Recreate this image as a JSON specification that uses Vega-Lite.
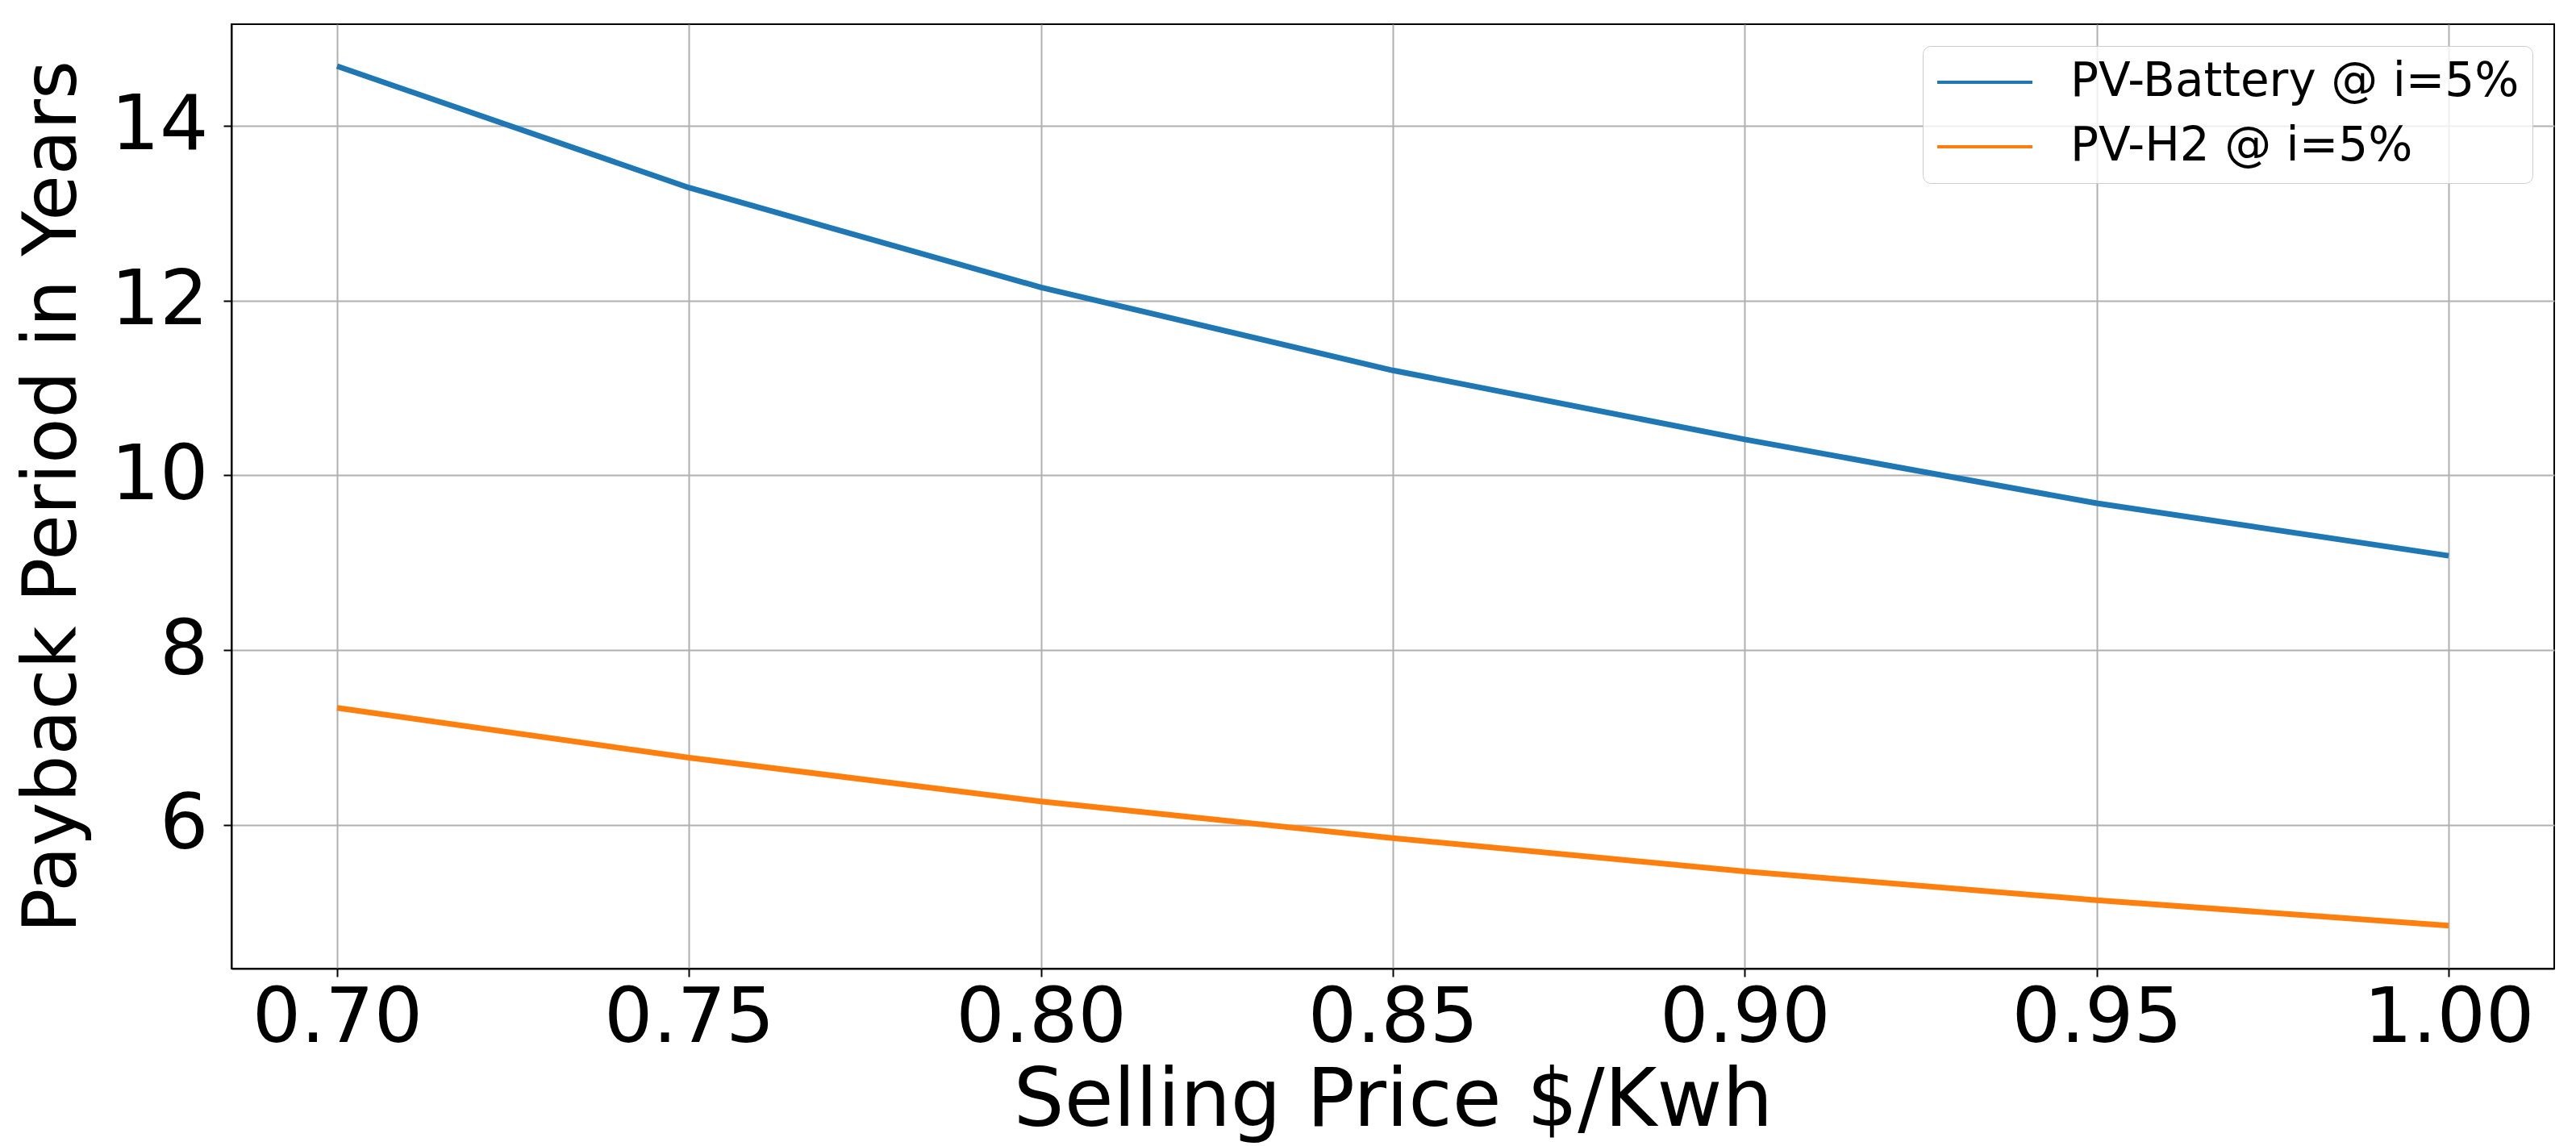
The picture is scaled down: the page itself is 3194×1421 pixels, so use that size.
{
  "$schema": "https://vega.github.io/schema/vega-lite/v6.json",
  "width": 2880,
  "height": 1171,
  "autosize": {"type": "none"},
  "padding": {"left": 287, "top": 30, "right": 27, "bottom": 220},
  "background": "white",
  "config": {
    "font": "DejaVu Sans",
    "view": {"stroke": "black", "strokeWidth": 2},
    "axis": {
      "labelFont": "DejaVu Sans",
      "titleFont": "DejaVu Sans",
      "labelColor": "black",
      "titleColor": "black",
      "titleFontWeight": "normal",
      "domainColor": "black",
      "domainWidth": 2,
      "tickColor": "black",
      "tickWidth": 2,
      "tickSize": 10,
      "gridColor": "#b0b0b0",
      "gridWidth": 2,
      "labelFontSize": 95,
      "labelLimit": 1000,
      "labelFlush": false,
      "labelOverlap": false
    },
    "legend": {
      "strokeColor": "#cccccc",
      "fillColor": "rgba(255,255,255,0.8)",
      "cornerRadius": 10
    }
  },
  "data": {
    "values": [
      {"price": 0.70, "years": 14.68, "series": "PV-Battery @ i=5%"},
      {"price": 0.75, "years": 13.29, "series": "PV-Battery @ i=5%"},
      {"price": 0.80, "years": 12.15, "series": "PV-Battery @ i=5%"},
      {"price": 0.85, "years": 11.20, "series": "PV-Battery @ i=5%"},
      {"price": 0.90, "years": 10.41, "series": "PV-Battery @ i=5%"},
      {"price": 0.95, "years": 9.68, "series": "PV-Battery @ i=5%"},
      {"price": 1.00, "years": 9.08, "series": "PV-Battery @ i=5%"},
      {"price": 0.70, "years": 7.34, "series": "PV-H2 @ i=5%"},
      {"price": 0.75, "years": 6.77, "series": "PV-H2 @ i=5%"},
      {"price": 0.80, "years": 6.27, "series": "PV-H2 @ i=5%"},
      {"price": 0.85, "years": 5.85, "series": "PV-H2 @ i=5%"},
      {"price": 0.90, "years": 5.47, "series": "PV-H2 @ i=5%"},
      {"price": 0.95, "years": 5.14, "series": "PV-H2 @ i=5%"},
      {"price": 1.00, "years": 4.85, "series": "PV-H2 @ i=5%"}
    ]
  },
  "mark": {"type": "line", "strokeWidth": 7, "strokeCap": "butt", "strokeJoin": "round"},
  "encoding": {
    "x": {
      "field": "price",
      "type": "quantitative",
      "scale": {"domain": [0.685, 1.015], "nice": false, "zero": false},
      "axis": {
        "title": "Selling Price $/Kwh",
        "values": [0.70, 0.75, 0.80, 0.85, 0.90, 0.95, 1.00],
        "format": ".2f",
        "labelPadding": 5,
        "titleFontSize": 99,
        "titlePadding": 7
      }
    },
    "y": {
      "field": "years",
      "type": "quantitative",
      "scale": {"domain": [4.358, 15.16], "nice": false, "zero": false},
      "axis": {
        "title": "Payback Period in Years",
        "values": [6, 8, 10, 12, 14],
        "labelPadding": 19,
        "titleFontSize": 92,
        "titlePadding": 25
      }
    },
    "color": {
      "field": "series",
      "type": "nominal",
      "scale": {"domain": ["PV-Battery @ i=5%", "PV-H2 @ i=5%"], "range": ["#1f77b4", "#ff7f0e"]},
      "legend": {
        "title": null,
        "orient": "top-right",
        "offset": 27,
        "symbolType": "stroke",
        "symbolSize": 13924,
        "symbolStrokeWidth": 4,
        "clipHeight": 58,
        "labelFont": "DejaVu Sans",
        "labelFontSize": 58,
        "labelColor": "black",
        "labelOffset": 45,
        "labelLimit": 1000,
        "padding": 16,
        "rowPadding": 22
      }
    }
  }
}
